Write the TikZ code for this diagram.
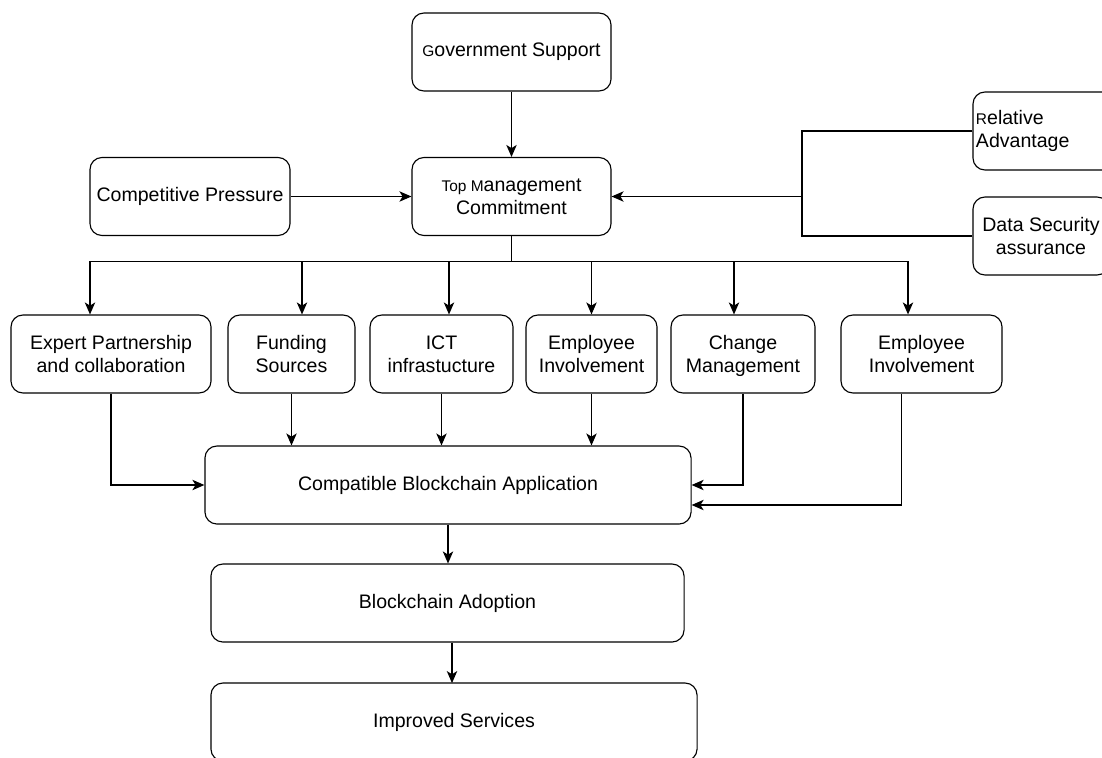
\documentclass[tikz,border=0pt]{standalone}
\usepackage{fontspec}
\setmainfont{Liberation Sans}
\usetikzlibrary{arrows.meta,calc}

\begin{document}
\begin{tikzpicture}[x=0.025cm,y=-0.025cm,>={Stealth[length=0.3cm,width=0.26cm,inset=0.08cm]},line width=0.8pt,
  font=\fontsize{13.9}{16.4}\selectfont]
  \tikzstyle{box}=[draw,rounded corners=0.3cm,minimum height=1.95cm,align=center,inner sep=2pt]
  \useasboundingbox (0,0) rectangle (1102,757);

  % top part
  \node[box,minimum width=4.975cm] (gov) at (511.5,52) {{\fontsize{11}{13}\selectfont G}overnment Support};
  \node[box,minimum width=4.975cm] (tmc) at (511.5,196.5) {{\fontsize{11}{13}\selectfont Top M}anagement\\Commitment};
  \node[box,minimum width=5cm] (comp) at (190,196.5) {Competitive Pressure};
  \node[box,minimum width=5cm,text width=4.85cm,align=left,inner sep=1pt] (rel) at (1073,131) {{\fontsize{11}{13}\selectfont R}elative\\Advantage};
  \node[box,minimum width=3.4cm] (data) at (1041,236) {Data Security\\assurance};

  % factors
  \node[box,minimum width=5cm] (exp) at (111,354) {Expert Partnership\\and collaboration};
  \node[box,minimum width=3.175cm] (fund) at (291.5,354) {Funding\\Sources};
  \node[box,minimum width=3.575cm] (ict) at (441.5,354) {ICT\\infrastucture};
  \node[box,minimum width=3.275cm] (emp) at (591.5,354) {Employee\\Involvement};
  \node[box,minimum width=3.6cm] (chg) at (743,354) {Change\\\raisebox{0pt}[\height][0pt]{Management}};
  \node[box,minimum width=4.025cm] (empb) at (921.5,354) {Employee\\Involvement};

  % outcome chain
  \node[box,minimum width=12.15cm] (cba) at (448,485) {Compatible Blockchain Application};
  \node[box,minimum width=11.825cm] (adopt) at (447.5,603) {Blockchain Adoption};
  \node[box,minimum width=12.15cm] (impr) at (454,722) {Improved Services};

  \draw[->] (gov) -- (tmc);
  \draw[->] (comp) -- (tmc);
  \coordinate (rj) at (802,196.5);
  \draw (rel.west) -| (rj) |- (data.west);
  \draw[->] (rj) -- (tmc.east);

  \draw (tmc.south) -- ++(0,26);
  \draw ($(exp.north)+(-21,-53)$) -- ($(empb.north)+(-13.5,-53)$);
  \foreach \n/\dx in {exp/-21,fund/10.5,ict/7.5,emp/0,chg/-9,empb/-13.5}
    \draw[->] ($(\n.north)+(\dx,-53)$) -- ($(\n.north)+(\dx,0)$);

  \draw[->] (exp.south) |- (cba.west);
  \foreach \n in {fund,ict,emp}
    \draw[->] (\n.south) -- (\n.south |- cba.north);
  \draw[->] (chg.south) |- (cba.east);
  \draw[->] ($(empb.south)+(-20,0)$) |- ($(cba.east)+(0,20)$);

  \draw[->] (cba.south) -- (cba.south |- adopt.north);
  \draw[->] (adopt.south) ++(4.5,0) -- ++(0,40.5);
\end{tikzpicture}
\end{document}
